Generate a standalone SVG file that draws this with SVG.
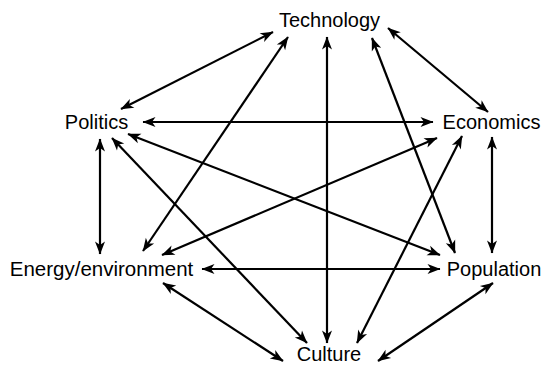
<svg xmlns="http://www.w3.org/2000/svg" width="546" height="365" viewBox="0 0 546 365">
<style>
text{font-family:"Liberation Sans",Arial,sans-serif;font-size:20px;fill:#000;text-anchor:middle}
.c line{stroke:#000;stroke-width:2.2;marker-start:url(#a);marker-end:url(#a)}
</style>
<defs>
<marker id="a" markerUnits="userSpaceOnUse" markerWidth="14" markerHeight="11" refX="12.5" refY="5.5" orient="auto-start-reverse" viewBox="0 0 14 11" overflow="visible">
<path d="M0,0.5 L13,5.5 L0,10.5 L3.5,5.5 z" fill="#000"/>
</marker>
</defs>
<rect width="546" height="365" fill="#fff"/>
<g class="c" id="connectors">
<line x1="273" y1="32" x2="121" y2="109"/>
<line x1="388" y1="28" x2="488" y2="112"/>
<line x1="143" y1="122" x2="433" y2="122"/>
<line x1="100" y1="139" x2="100" y2="254"/>
<line x1="492" y1="137" x2="492" y2="253"/>
<line x1="202" y1="269" x2="440" y2="269"/>
<line x1="163" y1="283" x2="283" y2="361"/>
<line x1="378" y1="361" x2="493" y2="283"/>
<line x1="327" y1="37" x2="327" y2="343"/>
<line x1="288" y1="37" x2="143" y2="251"/>
<line x1="372" y1="38" x2="455" y2="253"/>
<line x1="437" y1="138" x2="162" y2="255"/>
<line x1="462" y1="136" x2="357" y2="343"/>
<line x1="128" y1="134" x2="440" y2="255"/>
<line x1="112" y1="138" x2="307" y2="343"/>
</g>
<g id="technology"><text x="329.5" y="27">Technology</text></g>
<g id="politics"><text x="96.5" y="129">Politics</text></g>
<g id="economics"><text x="491.5" y="129">Economics</text></g>
<g id="energy"><text x="101.5" y="276" style="font-size:20.5px">Energy/environment</text></g>
<g id="population"><text x="494" y="276">Population</text></g>
<g id="culture"><text x="329" y="361">Culture</text></g>
</svg>
